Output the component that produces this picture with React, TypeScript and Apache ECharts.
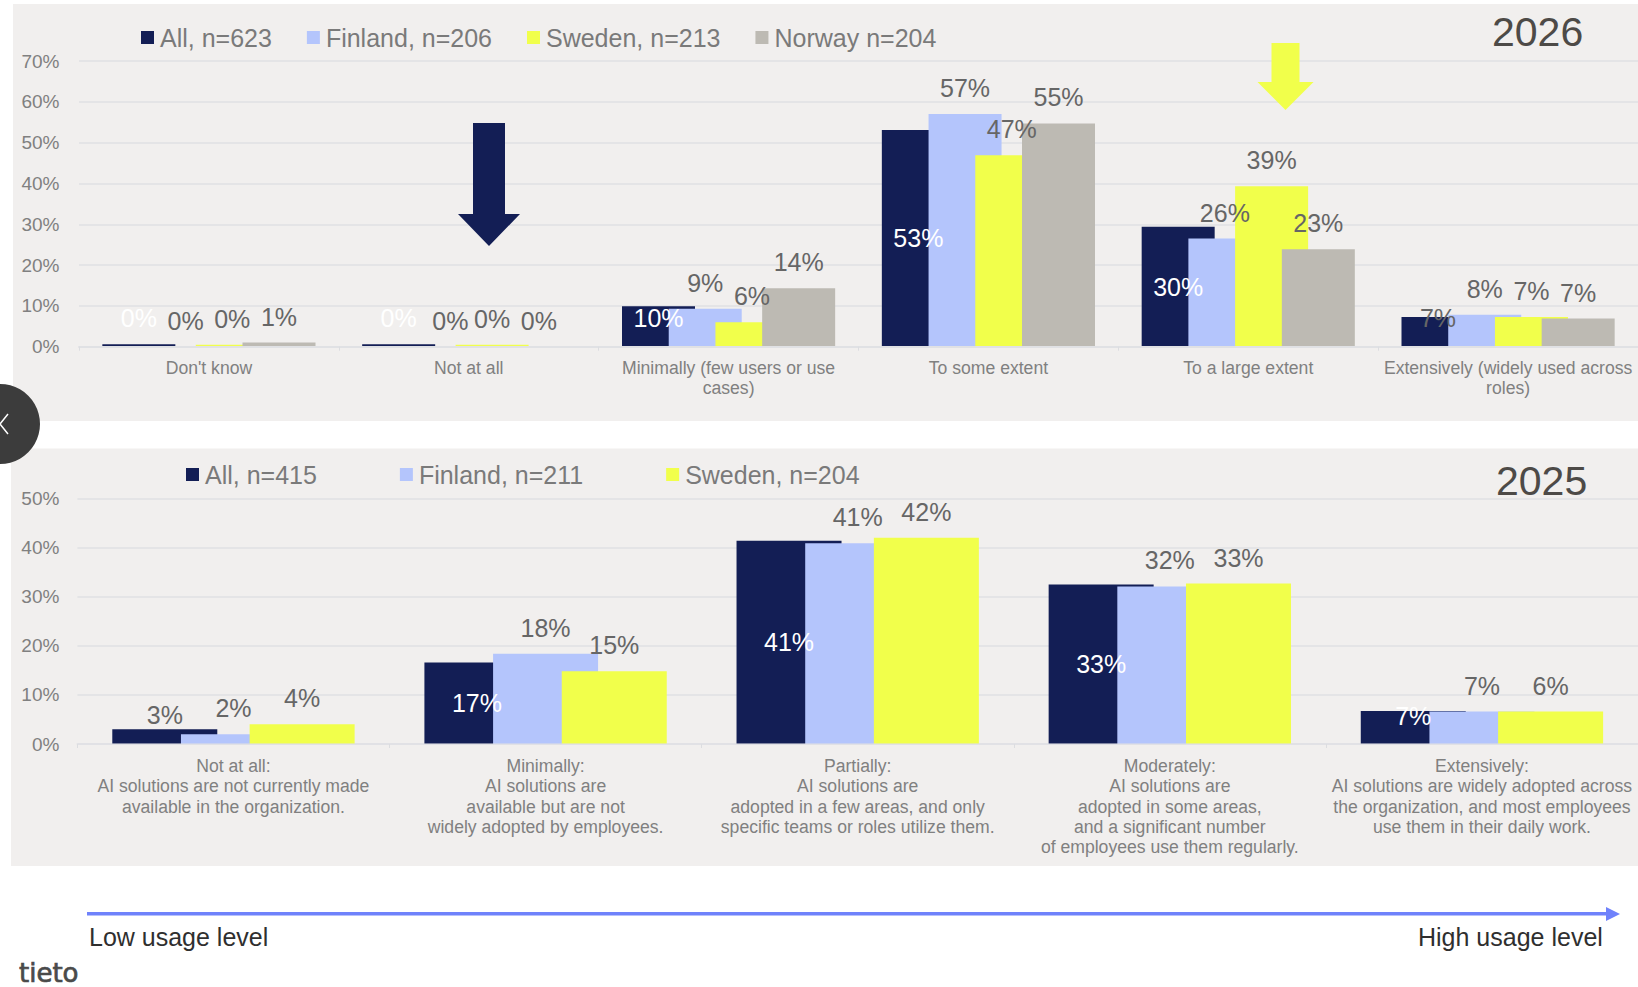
import React, { useEffect, useRef } from "react";
import * as echarts from "echarts";

const categories2026 = [
  "Don't know",
  "Not at all",
  "Minimally (few users or use\ncases)",
  "To some extent",
  "To a large extent",
  "Extensively (widely used across\nroles)",
];
const all2026 = [0.6, 0.6, 9.9, 53.1, 29.4, 7.3];
const finland2026 = [0, 0, 9.3, 57, 26.5, 7.8];
const sweden2026 = [0.5, 0.5, 6, 46.9, 39.3, 7.3];
const norway2026 = [1, 0, 14.3, 54.7, 23.9, 6.9];
const allText2026 = [0, 0, 10, 53, 30, 7];
const finlandText2026 = [0, 0, 9, 57, 26, 8];
const swedenText2026 = [0, 0, 6, 47, 39, 7];
const norwayText2026 = [1, 0, 14, 55, 23, 7];

const categories2025 = [
  "Not at all:\nAI solutions are not currently made\navailable in the organization.",
  "Minimally:\nAI solutions are\navailable but are not\nwidely adopted by employees.",
  "Partially:\nAI solutions are\nadopted in a few areas, and only\nspecific teams or roles utilize them.",
  "Moderately:\nAI solutions are\nadopted in some areas,\nand a significant number\nof employees use them regularly.",
  "Extensively:\nAI solutions are widely adopted across\nthe organization, and most employees\nuse them in their daily work.",
];
const all2025 = [3, 16.6, 41.4, 32.5, 6.7];
const finland2025 = [2, 18.4, 40.9, 32.1, 6.6];
const sweden2025 = [4, 14.8, 42, 32.7, 6.6];
const allText2025 = [3, 17, 41, 33, 7];
const finlandText2025 = [2, 18, 41, 32, 7];
const swedenText2025 = [4, 15, 42, 33, 6];

const ticks2026Max = 70;
const ticks2025Max = 50;

const NAVY = "#131e55";
const BLUE = "#b4c5fc";
const YELLOW = "#f1ff4b";
const STONE = "#bdbab3";
const PANEL = "#f1efee";
const GRID = "#e4e4e6";
const TEXT = "#666666";
const AXIS_TEXT = "#808080";
const FONT = "'Liberation Sans', Arial, sans-serif";

// How the "All" labels sit: on the bar's top edge ("top") or inside it, with a vertical nudge.
const allPlacement2026 = [
  { pos: "top", color: "#ffffff", dy: 0 },
  { pos: "top", color: "#ffffff", dy: 0 },
  { pos: "inside", color: "#ffffff", dy: -8 },
  { pos: "inside", color: "#ffffff", dy: 0 },
  { pos: "inside", color: "#ffffff", dy: 0 },
  { pos: "inside", color: TEXT, dy: -14 },
];
const allPlacement2025 = [
  { pos: "top", color: TEXT, dy: 12 },
  { pos: "inside", color: "#ffffff", dy: 0 },
  { pos: "inside", color: "#ffffff", dy: 0 },
  { pos: "inside", color: "#ffffff", dy: 0 },
  { pos: "inside", color: "#ffffff", dy: -12 },
];

type Placement = { pos: string; color: string; dy: number };

function barSeries(
  name: string,
  color: string,
  values: number[],
  texts: number[],
  axis: number,
  barWidth: number,
  barGap: string,
  placement?: Placement[],
  dxAt?: Record<number, number>
) {
  return {
    type: "bar",
    name,
    xAxisIndex: axis,
    yAxisIndex: axis,
    barWidth,
    barGap,
    itemStyle: { color },
    data: values.map((v, i) => {
      const p: Placement = placement ? placement[i] : { pos: "top", color: TEXT, dy: 0 };
      return {
        value: v,
        label: {
          show: true,
          position: p.pos,
          distance: 13.5,
          offset: [dxAt?.[i] ?? 0, p.dy],
          color: p.color,
          fontSize: 25,
          fontFamily: FONT,
          formatter: `${texts[i]}%`,
        },
      };
    }),
  };
}

function xAxis(data: string[], axis: number, lineColor: string, lineHeight: number, margin: number) {
  return {
    type: "category",
    gridIndex: axis,
    data,
    z: 3,
    axisLine: { lineStyle: { color: lineColor, width: 2 } },
    axisTick: { show: true, length: 4, lineStyle: { color: "#dcdde0", width: 1 } },
    axisLabel: {
      interval: 0,
      color: AXIS_TEXT,
      fontSize: 17.6,
      fontFamily: FONT,
      lineHeight,
      margin,
    },
  };
}

function yAxis(max: number, axis: number, margin: number) {
  return {
    type: "value",
    gridIndex: axis,
    min: 0,
    max,
    interval: 10,
    axisLine: { show: false },
    axisTick: { show: false },
    splitLine: { lineStyle: { color: GRID, width: 2 } },
    axisLabel: {
      formatter: "{value}%",
      color: AXIS_TEXT,
      fontSize: 19,
      fontFamily: FONT,
      margin,
    },
  };
}

function legend(names: string[], left: number, top: number, itemGap: number) {
  return {
    data: names,
    left,
    top,
    orient: "horizontal",
    itemWidth: 13,
    itemHeight: 13,
    itemGap,
    selectedMode: false,
    icon: "rect",
    textStyle: {
      color: "#7a7a7a",
      fontSize: 25,
      fontFamily: FONT,
      padding: [0, 0, 0, 1],
    },
  };
}

function downArrow(cx: number, y0: number, y1: number, tip: number, shaft: number, head: number, fill: string) {
  return {
    type: "polygon",
    z: 20,
    shape: {
      points: [
        [cx - shaft, y0],
        [cx + shaft, y0],
        [cx + shaft, y1],
        [cx + head, y1],
        [cx, tip],
        [cx - head, y1],
        [cx - shaft, y1],
      ],
    },
    style: { fill },
  };
}

const text = (t: string, x: number, y: number, size: number, fill: string, family = FONT, weight = 0) => ({
  type: "text",
  z: 20,
  x,
  y,
  style: {
    text: t,
    fill,
    font: `${size}px ${family}`,
    verticalAlign: "middle",
    stroke: weight ? fill : undefined,
    lineWidth: weight,
  },
});

export default function App() {
  const ref = useRef<HTMLDivElement>(null);

  useEffect(() => {
    document.body.style.margin = "0";
    document.body.style.background = "#ffffff";
    const chart = echarts.init(ref.current!, undefined, { renderer: "svg" });
    const names2026 = ["All, n=623", "Finland, n=206", "Sweden, n=213", "Norway n=204"];
    const names2025 = ["All, n=415", "Finland, n=211", "Sweden, n=204"];
    const gap26 = "-36%";
    const gap25 = "-34.6%";
    chart.setOption({
      animation: false,
      backgroundColor: "#ffffff",
      grid: [
        { left: 79, top: 61, width: 1561, height: 285.7 },
        { left: 77.4, top: 498.6, width: 1561.5, height: 245.4 },
      ],
      legend: [legend(names2026, 136, 20, 35), legend(names2025, 181, 457, 83)],
      xAxis: [
        xAxis(categories2026, 0, "#e0e1e4", 19.5, 12),
        xAxis(categories2025, 1, "rgba(222,223,227,0.55)", 20.2, 12),
      ],
      yAxis: [yAxis(ticks2026Max, 0, 19.5), yAxis(ticks2025Max, 1, 18)],
      series: [
        barSeries(names2026[0], NAVY, all2026, allText2026, 0, 73, gap26, allPlacement2026),
        barSeries(names2026[1], BLUE, finland2026, finlandText2026, 0, 73, gap26, undefined, { 1: 5 }),
        barSeries(names2026[2], YELLOW, sweden2026, swedenText2026, 0, 73, gap26),
        barSeries(names2026[3], STONE, norway2026, norwayText2026, 0, 73, gap26),
        barSeries(names2025[0], NAVY, all2025, allText2025, 1, 105, gap25, allPlacement2025),
        barSeries(names2025[1], BLUE, finland2025, finlandText2025, 1, 105, gap25),
        barSeries(names2025[2], YELLOW, sweden2025, swedenText2025, 1, 105, gap25),
      ],
      graphic: [
        { type: "rect", z: -10, shape: { x: 13, y: 4, width: 1625, height: 417 }, style: { fill: PANEL } },
        { type: "rect", z: -10, shape: { x: 11, y: 448.5, width: 1627, height: 417.5 }, style: { fill: PANEL } },
        downArrow(489, 123, 214, 246, 16, 31, NAVY),
        downArrow(1285.5, 43, 82, 110, 14, 28, YELLOW),
        text("2026", 1492, 32, 41, "#4d4a47"),
        text("2025", 1496, 481, 41, "#4d4a47"),
        { type: "rect", z: 20, shape: { x: 87, y: 912, width: 1520, height: 3.5 }, style: { fill: "#6f82fb" } },
        {
          type: "polygon",
          z: 20,
          shape: { points: [[1606, 907], [1620, 914], [1606, 921]] },
          style: { fill: "#6f82fb" },
        },
        text("Low usage level", 89, 937, 25, "#2f2f2f"),
        text("High usage level", 1418, 937, 25, "#2f2f2f"),
        text("tieto", 19, 973, 26, "#4a4a4a", "'DejaVu Sans', sans-serif", 0.7),
        { type: "circle", z: 30, shape: { cx: 0, cy: 424, r: 40 }, style: { fill: "#3c3c3c" } },
        {
          type: "polyline",
          z: 31,
          shape: { points: [[8, 414], [0, 424], [8, 434]] },
          style: { stroke: "#ffffff", lineWidth: 1.5, fill: "none" },
        },
      ],
    });
    return () => chart.dispose();
  }, []);

  return <div ref={ref} style={{ width: 1638, height: 987 }} />;
}
